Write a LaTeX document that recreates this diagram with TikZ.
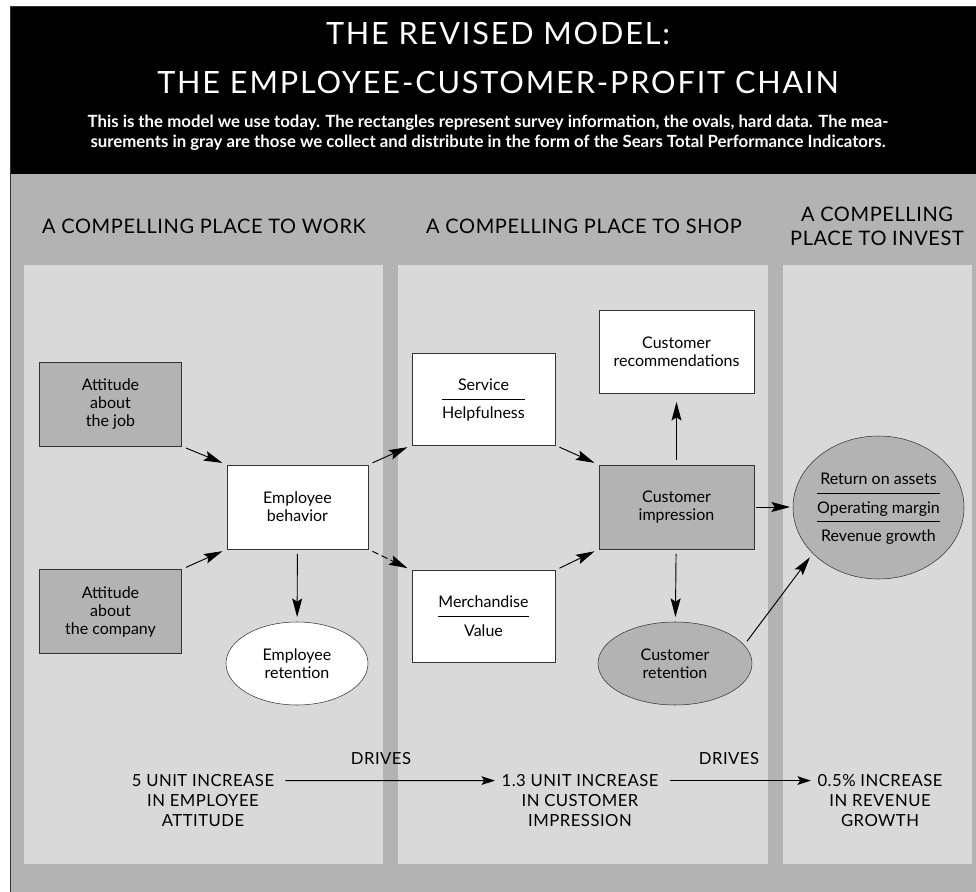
\documentclass[tikz,border=0pt]{standalone}
\usepackage{fontspec}
\setmainfont{Lato}
\newfontfamily\capsfont[LetterSpace=6]{Lato}
\newfontfamily\hdfont[LetterSpace=3]{Lato}
\usetikzlibrary{arrows.meta,shapes.geometric}
\definecolor{band}{HTML}{B3B3B3}
\definecolor{panel}{HTML}{D9D9D9}
\definecolor{edge}{HTML}{333333}
\renewcommand{\arraystretch}{1.55}
\setlength{\arrayrulewidth}{0.7pt}
\tikzset{
	wb/.style={draw=edge,fill=white,inner sep=0pt,align=center,font=\fontsize{12}{13.5}\selectfont},
	gb/.style={wb,fill=band},
	wo/.style={wb,ellipse},
	go/.style={wo,fill=band},
	ar/.style={line width=0.7pt,-{Stealth[length=14pt,width=7.5pt,inset=2.5pt]},shorten <=3.5pt,shorten >=3.5pt},
	ar2/.style={line width=0.7pt,-{Stealth[length=10pt,width=6.5pt,inset=2pt]},shorten <=5pt,shorten >=1.5pt},
	tt/.style={text=white,align=center,font=\capsfont\fontsize{23}{37}\selectfont},
	st/.style={text=white,align=center,font=\bfseries\fontsize{12.6}{15}\selectfont},
	hd/.style={align=center,font=\hdfont\fontsize{15}{18}\selectfont},
	ft/.style={align=center,font=\hdfont\fontsize{12.5}{15}\selectfont},
}

\begin{document}
\begin{tikzpicture}[x=0.75pt,y=-0.75pt]
	\useasboundingbox (0,0) rectangle (976,892);
	\fill [white] (0,0) rectangle (976,892);
	\fill [band] (10,174) rectangle (976,892);
	\fill [black] (10,6) rectangle (976,174);
	\fill [panel] (24,265) rectangle (383,864);
	\fill [panel] (398,265) rectangle (768,864);
	\fill [panel] (783,265) rectangle (972,864);
	\draw [black!80] (10,892) -- (10,6) -- (976,6);

	\node [tt] (title) at (498,58) {THE REVISED MODEL:\\THE EMPLOYEE-CUSTOMER-PROFIT CHAIN};
	\node [st] (note) at (488,133) {This is the model we use today. The rectangles represent survey information, the ovals, hard data. The mea-\\surements in gray are those we collect and distribute in the form of the Sears Total Performance Indicators.};

	\node [hd] (work) at (204,226) {A COMPELLING PLACE TO WORK};
	\node [hd] (shop) at (584,226) {A COMPELLING PLACE TO SHOP};
	\node [hd] (invest) at (877,226) {A COMPELLING\\PLACE TO INVEST};

	\node [gb,minimum width=106.5pt,minimum height=63pt] (job) at (110.5,404) {Attitude\\about\\the job};
	\node [gb,minimum width=106.5pt,minimum height=63pt] (comp) at (110.5,611.5) {Attitude\\about\\the company};
	\node [wb,minimum width=105.75pt,minimum height=63pt] (beh) at (297.5,507) {Employee\\behavior};
	\node [wo,minimum width=106.5pt,minimum height=62.25pt] (eret) at (297,663.5) {Employee\\retention};
	\node [wb,minimum width=107.25pt,minimum height=69pt] (srv) at (483.5,399) {\begin{tabular}{@{}c@{}}Service\\\hline Helpfulness\end{tabular}};
	\node [wb,minimum width=107.25pt,minimum height=69pt] (mer) at (483.5,616.5) {\begin{tabular}{@{}c@{}}Merchandise\\\hline Value\end{tabular}};
	\node [wb,minimum width=116.25pt,minimum height=62.25pt] (rec) at (676.5,351.5) {Customer\\recommendations};
	\node [gb,minimum width=116.25pt,minimum height=63pt] (imp) at (676.5,507) {Customer\\impression};
	\node [go,minimum width=115.5pt,minimum height=62.25pt] (cret) at (675,663.5) {Customer\\retention};
	\node [go,minimum width=128.25pt,minimum height=107.25pt] (roa) at (878.5,507.5) {\makebox[0pt]{\begin{tabular}{@{}c@{}}Return on assets\\\hline Operating margin\\\hline Revenue growth\end{tabular}}};

	\draw [ar] (job.south east) -- (beh.north west);
	\draw [ar] (comp.north east) -- (beh.south west);
	\draw [ar] (beh.north east) -- (srv.south west);
	\draw [ar,dash pattern=on 5pt off 2.5pt] (beh.south east) -- (mer.north west);
	\draw [ar] (beh) -- (eret);
	\draw [ar] (srv.south east) -- (imp.north west);
	\draw [ar] (mer.north east) -- (imp.south west);
	\draw [ar,shorten >=6.5pt] (imp) -- (rec);
	\draw [ar] (imp) -- (cret);
	\draw [ar,shorten <=1.5pt,shorten >=2pt] (imp.east) -- (imp.east -| roa.west);
	\draw [ar] (cret.15) -- (roa.215);

	\node [ft] (d1) at (381,759) {DRIVES};
	\node [ft] (d2) at (729,759) {DRIVES};
	\node [ft] (u1) at (203,801) {5 UNIT INCREASE\\IN EMPLOYEE\\ATTITUDE};
	\node [ft] (u2) at (580,801) {1.3 UNIT INCREASE\\IN CUSTOMER\\IMPRESSION};
	\node [ft] (u3) at (880,801) {0.5\% INCREASE\\IN REVENUE\\GROWTH};
	\draw [ar2] ([yshift=-7.8pt]u1.north east) -- ([yshift=-7.8pt]u2.north west);
	\draw [ar2] ([yshift=-7.8pt]u2.north east) -- ([yshift=-7.8pt]u3.north west);
\end{tikzpicture}
\end{document}
